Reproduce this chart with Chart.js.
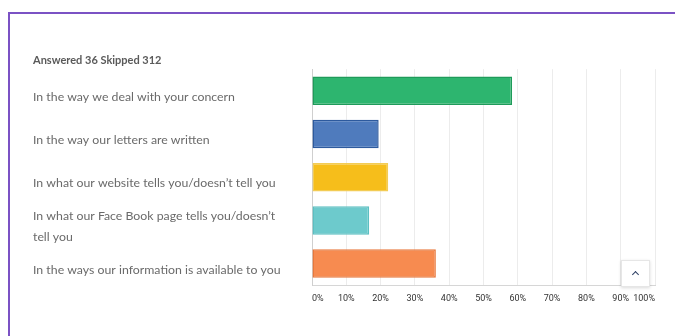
<!DOCTYPE html>
<html>
<head>
<meta charset="utf-8">
<script src="https://cdn.jsdelivr.net/npm/chart.js@4/dist/chart.umd.min.js"></script>
<style>
  html, body { margin: 0; padding: 0; background: #fff; }
  #wrap { position: relative; width: 675px; height: 336px; overflow: hidden; }
  #frame {
    position: absolute; left: 8px; top: 12px; width: 700px; height: 400px;
    border-left: 2px solid #7b52c4; border-top: 2px solid #7b52c4;
  }
  #up {
    position: absolute; left: 621px; top: 260px; width: 27px; height: 25px;
    background: #fff; border: 1px solid #e6e6e6; box-shadow: 0 1px 3px rgba(0,0,0,0.15);
  }
  #up::after {
    content: ""; position: absolute; left: 11px; top: 11px; width: 4px; height: 4px;
    border-left: 1.5px solid #2d3f63; border-top: 1.5px solid #2d3f63; transform: rotate(45deg);
  }
</style>
</head>
<body>
<div id="wrap">
  <div id="frame"></div>
  <canvas id="grafico" width="675" height="336"></canvas>
  <div id="up"></div>
</div>
<script>
const respuestas = "Answered 36 Skipped 312";

const categorias = [
  "In the way we deal with your concern",
  "In the way our letters are written",
  "In what our website tells you/doesn’t tell you",
  ["In what our Face Book page tells you/doesn’t", "tell you"],
  "In the ways our information is available to you"
];

// porcentaje de respuestas (de 36)
const porcentajes = [58.33, 19.44, 22.22, 16.67, 36.11];

const ticksX = ["0%", "10%", "20%", "30%", "40%", "50%", "60%", "70%", "80%", "90%", "100%"];

const colores = ["#2db56f", "#4f7bbd", "#f6be1b", "#6dcacc", "#f78b50"];
const bordes = ["#1f9b5a", "#2d5a9e", "#f3cc55", "#5cbfc2", "#e8783c"];

const ctx = document.getElementById("grafico").getContext("2d");

new Chart(ctx, {
  type: "bar",
  data: {
    labels: categorias,
    datasets: [{
      data: porcentajes,
      backgroundColor: colores,
      borderColor: bordes,
      borderWidth: 1.5,
      borderSkipped: false,
      barPercentage: 0.66,
      categoryPercentage: 1
    }]
  },
  options: {
    indexAxis: "y",
    responsive: false,
    animation: false,
    layout: { padding: { left: 33, right: 20, top: 0, bottom: 24 } },
    plugins: {
      legend: { display: false },
      tooltip: { enabled: false },
      title: {
        display: true,
        text: respuestas,
        align: "start",
        color: "#5a5a5a",
        font: { family: "Lato", size: 11, weight: "bold" },
        padding: { top: 54, bottom: 2 }
      }
    },
    scales: {
      x: {
        min: 0,
        max: 100,
        ticks: {
          stepSize: 10,
          align: "inner",
          padding: 8,
          color: "#333",
          font: { family: "Roboto", size: 9 },
          callback: (v, i) => ticksX[i]
        },
        grid: { color: "#ececec", drawTicks: false },
        border: { color: "#d6d6d6" }
      },
      y: {
        afterFit: s => { s.width = 279; },
        ticks: {
          autoSkip: false,
          crossAlign: "far",
          labelOffset: 6,
          color: "#6a6a6a",
          font: { family: "Lato", size: 12.3, lineHeight: 1.65 }
        },
        grid: { display: false, drawTicks: false },
        border: { color: "#cfcfcf" }
      }
    }
  }
});
</script>
</body>
</html>
